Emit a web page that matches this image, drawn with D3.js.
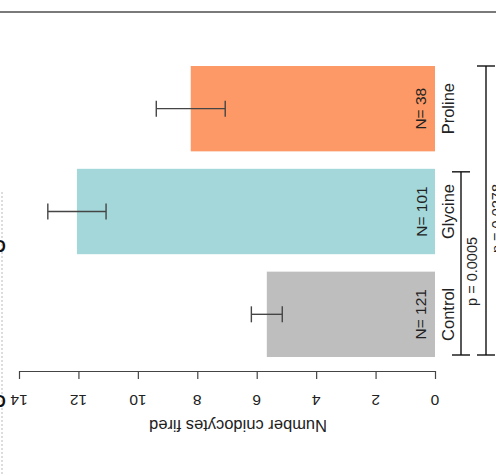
<!DOCTYPE html>
<html>
<head>
<meta charset="utf-8">
<script src="https://cdn.jsdelivr.net/npm/d3@7"></script>
<style>
  body { margin: 0; background: #fff; }
  text { font-family: "Liberation Sans", Arial, sans-serif; }
</style>
</head>
<body>
<div id="chart"></div>
<script>
const groups = ["Control", "Glycine", "Proline"];
const means = [5.66, 12.05, 8.22];
const errs = [0.52, 0.98, 1.16];
const counts = [121, 101, 38];
const colors = ["#bebebe", "#a3d7da", "#fd9966"];
const tickValues = [0, 2, 4, 6, 8, 10, 12, 14];
const comparisons = [
  { from: "Control", to: "Glycine", label: "p = 0.0005" },
  { from: "Control", to: "Proline", label: "p = 0.0278" }
];

const W = 496, H = 476;

const svg = d3.select("#chart")
  .append("svg")
  .attr("width", W)
  .attr("height", H);

// value axis runs right to left (figure is turned on its side)
const x = d3.scaleLinear().domain([0, 14]).range([435, 19]);
const y = d3.scaleBand()
  .domain(groups.slice().reverse())
  .range([66, 357])
  .paddingInner(0.17)
  .paddingOuter(0);

const rows = groups.map((g, i) => ({ g: g, m: means[i], e: errs[i], n: counts[i], c: colors[i] }));

// top rule and dotted edge
svg.append("line")
  .attr("x1", 0).attr("x2", W).attr("y1", 12).attr("y2", 12)
  .attr("stroke", "#7a7a7a").attr("stroke-width", 2);
svg.append("line")
  .attr("x1", 2).attr("x2", 2).attr("y1", 192).attr("y2", H)
  .attr("stroke", "#bbb").attr("stroke-width", 1)
  .attr("stroke-dasharray", "2,2");

// bars
svg.selectAll("rect.bar")
  .data(rows)
  .join("rect")
  .attr("class", "bar")
  .attr("x", d => x(d.m))
  .attr("y", d => y(d.g))
  .attr("width", d => x(0) - x(d.m))
  .attr("height", y.bandwidth())
  .attr("fill", d => d.c);

// error bars
const eb = svg.selectAll("g.err").data(rows).join("g").attr("class", "err")
  .attr("stroke", "#454545").attr("stroke-width", 1.4);
eb.append("line")
  .attr("x1", d => x(d.m - d.e)).attr("x2", d => x(d.m + d.e))
  .attr("y1", d => y(d.g) + y.bandwidth() / 2).attr("y2", d => y(d.g) + y.bandwidth() / 2);
[-1, 1].forEach(s => {
  eb.append("line")
    .attr("x1", d => x(d.m + s * d.e)).attr("x2", d => x(d.m + s * d.e))
    .attr("y1", d => y(d.g) + y.bandwidth() / 2 - 8)
    .attr("y2", d => y(d.g) + y.bandwidth() / 2 + 8);
});

// rotated text helper
function vtext(sel, tx, ty, angle) {
  return sel.attr("x", tx).attr("y", ty)
    .attr("transform", `rotate(${angle},${tx},${ty})`)
    .attr("text-anchor", "middle")
    .attr("dominant-baseline", "central");
}

// N labels inside bars, group names beside them
rows.forEach(d => {
  vtext(svg.append("text"), 421, y(d.g) + y.bandwidth() / 2, -90)
    .attr("font-size", 15.5).attr("fill", "#222")
    .text("N= " + d.n);
  vtext(svg.append("text"), 448, y(d.g) + y.bandwidth() / 2, -90)
    .attr("font-size", 16.5).attr("fill", "#222")
    .text(d.g);
});

// value axis
const axis = svg.append("g")
  .attr("transform", "translate(0,371)")
  .call(d3.axisBottom(x).tickValues(tickValues).tickSize(8).tickSizeOuter(0));
axis.selectAll("path, line").attr("stroke", "#444").attr("stroke-width", 1.2);
axis.selectAll("text").remove();
tickValues.forEach(v => {
  vtext(svg.append("text"), x(v), 400, 180)
    .attr("font-size", 15.5).attr("fill", "#222")
    .text(v);
});
vtext(svg.append("text"), 238, 426, 180)
  .attr("font-size", 16.5).attr("fill", "#222")
  .text("Number cnidocytes fired");

// significance brackets
const bx = [461, 486];
comparisons.forEach((c, i) => {
  const top = y(c.to) + (i === 0 ? 3 : 0);
  const bot = y(c.from) + y.bandwidth() - 2;
  const g = svg.append("g").attr("stroke", "#111").attr("stroke-width", 1.4);
  g.append("line").attr("x1", bx[i]).attr("x2", bx[i]).attr("y1", top).attr("y2", bot);
  g.append("line").attr("x1", bx[i] - 9).attr("x2", bx[i] + 9).attr("y1", top).attr("y2", top);
  g.append("line").attr("x1", bx[i] - 9).attr("x2", bx[i] + 9).attr("y1", bot).attr("y2", bot);
  vtext(svg.append("text"), bx[i] + 11, (top + bot) / 2 + 8, -90)
    .attr("font-size", 14.5).attr("fill", "#222")
    .text(c.label);
});

// cut-off panel lettering on the left edge
[245, 400].forEach(py => {
  vtext(svg.append("text"), 0, py, 180)
    .attr("font-size", 16).attr("font-weight", "bold").attr("fill", "#111")
    .text("C");
});
</script>
</body>
</html>
